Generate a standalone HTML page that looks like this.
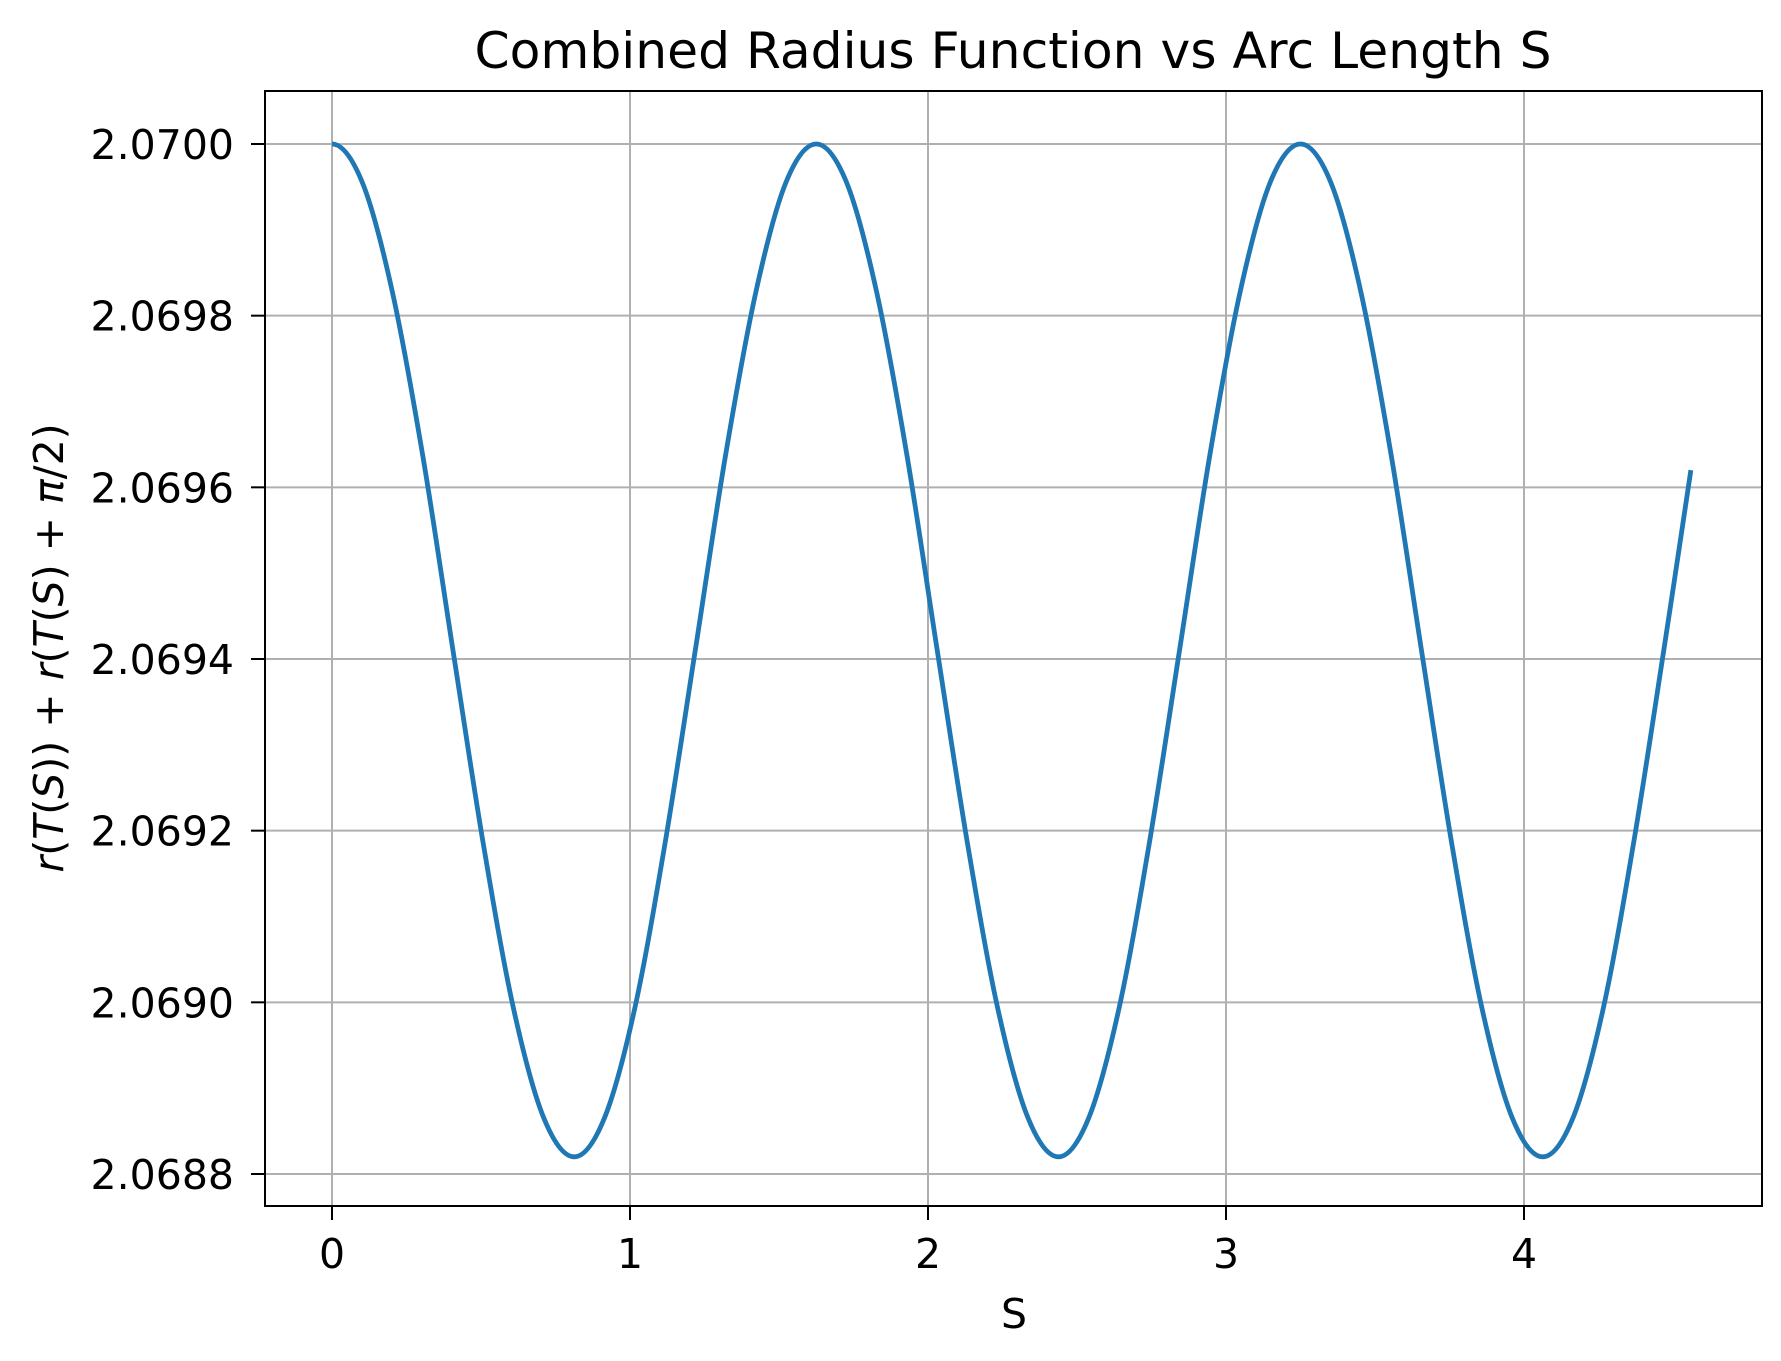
<!DOCTYPE html>
<html><head><meta charset="utf-8"><style>
html,body{margin:0;padding:0;background:#fff;}
svg{display:block;font-family:"DejaVu Sans","Liberation Sans",sans-serif;}
</style></head><body>
<svg id="chart" width="1781" height="1361" viewBox="0 0 1781 1361">
<rect x="0" y="0" width="1781" height="1361" fill="#fff"/>
<g id="grid"></g>
<g id="series"></g>
<rect x="265" y="91" width="1497" height="1115" fill="none" stroke="#000" stroke-width="2"/>
<g id="ticks"></g>
<text x="1013" y="68" text-anchor="middle" font-size="50.3">Combined Radius Function vs Arc Length S</text>
<text x="1014" y="1328" text-anchor="middle" font-size="41">S</text>
<text transform="translate(63,648) rotate(-90)" text-anchor="middle" font-size="41"><tspan font-style="italic">r</tspan>(<tspan font-style="italic">T</tspan>(<tspan font-style="italic">S</tspan>)) + <tspan font-style="italic">r</tspan>(<tspan font-style="italic">T</tspan>(<tspan font-style="italic">S</tspan>) + <tspan font-style="italic">π</tspan>/2)</text>
</svg>
<script>
const xTicks = [0, 1, 2, 3, 4];
const xTickLabels = ["0", "1", "2", "3", "4"];
const yTicks = [2.0688, 2.0690, 2.0692, 2.0694, 2.0696, 2.0698, 2.0700];
const yTickLabels = ["2.0688", "2.0690", "2.0692", "2.0694", "2.0696", "2.0698", "2.0700"];
const sValues = [0,0.102,0.203,0.305,0.406,0.508,0.609,0.711,0.813,0.914,1.016,1.117,1.219,1.320,1.422,1.523,
1.625,1.727,1.828,1.930,2.031,2.133,2.234,2.336,2.438,2.539,2.641,2.742,2.844,2.945,3.047,3.148,
3.250,3.352,3.453,3.555,3.656,3.758,3.859,3.961,4.063,4.164,4.266,4.367,4.469,4.560];
const rValues = [2.07000,2.069955,2.069827,2.069636,2.06941,2.069184,2.068993,2.068865,2.06882,2.068865,2.068993,2.069184,2.06941,2.069636,2.069827,2.069955,
2.07000,2.069955,2.069827,2.069636,2.06941,2.069184,2.068993,2.068865,2.06882,2.068865,2.068993,2.069184,2.06941,2.069636,2.069827,2.069955,
2.07000,2.069955,2.069827,2.069636,2.06941,2.069184,2.068993,2.068865,2.06882,2.068865,2.068993,2.069184,2.06941,2.06962];

const NS = "http://www.w3.org/2000/svg";
const L = 265, R = 1762, T = 91, B = 1206;
function xs(v){ return 332 + (v - 0) * (1524 - 332) / 4; }
function ys(v){ return 1174 + (v - 2.0688) * (144 - 1174) / 0.0012; }
function mk(tag, attrs, parent){ const e = document.createElementNS(NS, tag); for (const k in attrs) e.setAttribute(k, attrs[k]); parent.appendChild(e); return e; }
const grid = document.getElementById('grid'), ticks = document.getElementById('ticks'), series = document.getElementById('series');

xTicks.forEach((t, i) => {
  const x = xs(t);
  const g = mk('line', {x1:x, x2:x, y1:T, y2:B, stroke:'#b0b0b0', 'stroke-width':2}, grid);
  
  
  const tk = mk('line', {x1:x, x2:x, y1:B, y2:B+14, stroke:'#000', 'stroke-width':2}, ticks);
  
  
  const lb = mk('text', {x:x, y:B+62, 'text-anchor':'middle', 'font-size':41}, ticks);
  lb.textContent = xTickLabels[i];
  
  
});
yTicks.forEach((t, i) => {
  const y = ys(t);
  const g = mk('line', {x1:L, x2:R, y1:y, y2:y, stroke:'#b0b0b0', 'stroke-width':2}, grid);
  
  
  const tk = mk('line', {x1:L-14, x2:L, y1:y, y2:y, stroke:'#000', 'stroke-width':2}, ticks);
  
  
  const lb = mk('text', {x:L-31, y:y+15, 'text-anchor':'end', 'font-size':41}, ticks);
  lb.textContent = yTickLabels[i];
  
  
});

// Catmull-Rom smooth path through data points (mirrored endpoint at start)
const pts = sValues.map((s, i) => [xs(s), ys(rValues[i])]);
let d = 'M' + pts[0][0] + ',' + pts[0][1];
for (let i = 0; i < pts.length - 1; i++) {
  const p0 = i === 0 ? [2*pts[0][0] - pts[1][0], pts[1][1]] : pts[i-1];
  const p1 = pts[i], p2 = pts[i+1], p3 = pts[Math.min(pts.length-1, i+2)];
  const c1x = p1[0] + (p2[0]-p0[0])/6, c1y = p1[1] + (p2[1]-p0[1])/6;
  const c2x = p2[0] - (p3[0]-p1[0])/6, c2y = p2[1] - (p3[1]-p1[1])/6;
  d += ' C' + c1x + ',' + c1y + ' ' + c2x + ',' + c2y + ' ' + p2[0] + ',' + p2[1];
}
const line = mk('path', {d:d, fill:'none', stroke:'#1f77b4', 'stroke-width':4.8, 'stroke-linejoin':'round'}, series);


</script>
</body></html>
